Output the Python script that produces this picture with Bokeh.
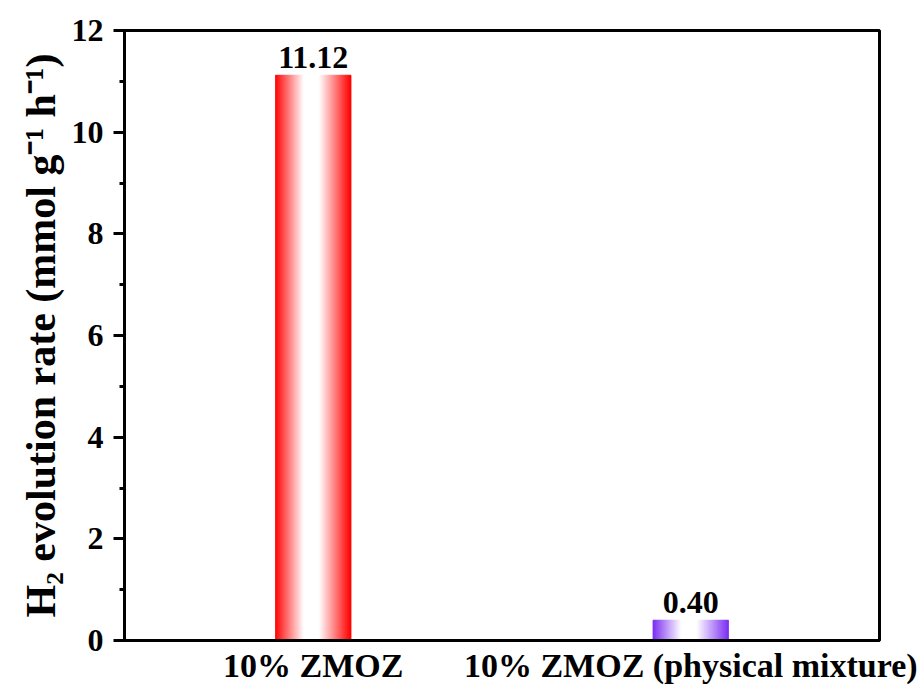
from bokeh.plotting import figure
from bokeh.models import Range1d, FixedTicker, SingleIntervalTicker, ColumnDataSource
from bokeh.core.properties import value
from bokeh.embed import file_html
from bokeh.resources import INLINE

# Data
categories = ["10% ZMOZ", "10% ZMOZ (physical mixture)"]
rates = [11.12, 0.40]
rate_labels = ["11.12", "0.40"]
edge_colors = [(255, 0, 0), (123, 44, 242)]

FONT = "Liberation Serif"
BAR_WIDTH = 0.2
N_STRIPS = 76

centers = [i + 0.5 for i in range(len(categories))]


def white_mix(t):
    # 0 at bar edges -> 1 across the middle (horizontal gradient)
    if t < 0.38:
        return t / 0.38
    if t <= 0.58:
        return 1.0
    return (1.0 - t) / 0.42


def hexcol(rgb, a):
    r, g, b = rgb
    r = round(r + (255 - r) * a)
    g = round(g + (255 - g) * a)
    b = round(b + (255 - b) * a)
    return "#%02x%02x%02x" % (r, g, b)


xs, tops, ws, cols = [], [], [], []
sw = BAR_WIDTH / N_STRIPS
for c, v, rgb in zip(centers, rates, edge_colors):
    for k in range(N_STRIPS):
        t = (k + 0.5) / N_STRIPS
        xs.append(c - BAR_WIDTH / 2 + t * BAR_WIDTH)
        tops.append(v)
        ws.append(sw)
        cols.append(hexcol(rgb, white_mix(t)))

strips = ColumnDataSource(dict(x=xs, top=tops, w=ws, color=cols))
labels = ColumnDataSource(dict(x=centers, y=rates, text=rate_labels))

p = figure(width=924, height=689, output_backend="svg", toolbar_location=None,
           x_range=Range1d(0, 2), y_range=Range1d(0, 12),
           min_border_left=124, min_border_top=30, min_border_right=45,
           min_border_bottom=49)

p.vbar(x="x", top="top", width="w", bottom=0, source=strips,
       fill_color="color", line_color="color", line_width=0.8)

p.text(x="x", y="y", text="text", source=labels, text_align="center",
       text_baseline="bottom", y_offset=-7, text_font=value(FONT),
       text_font_style="bold", text_font_size="32px", text_color="black")

p.grid.visible = False
p.outline_line_color = "black"
p.outline_line_width = 3
p.background_fill_color = "white"
p.border_fill_color = "white"

# y axis
ya = p.yaxis[0]
ya.ticker = SingleIntervalTicker(interval=2, num_minor_ticks=2)
ya.axis_label = "H\u2082 evolution rate (mmol g\u207b\u00b9 h\u207b\u00b9)"
ya.axis_label_text_font = FONT
ya.axis_label_text_font_style = "bold"
ya.axis_label_text_font_size = "42px"
ya.axis_label_text_color = "black"
ya.axis_label_standoff = 5
ya.major_label_text_font = FONT
ya.major_label_text_font_style = "bold"
ya.major_label_text_font_size = "32px"
ya.major_label_text_color = "black"
ya.major_label_standoff = 10
ya.axis_line_width = 3
ya.major_tick_line_width = 3
ya.minor_tick_line_width = 3
ya.major_tick_out = 11
ya.major_tick_in = 0
ya.minor_tick_out = 5
ya.minor_tick_in = 0

# x axis
xa = p.xaxis[0]
xa.ticker = FixedTicker(ticks=centers)
xa.major_label_overrides = {c: name for c, name in zip(centers, categories)}
xa.major_label_text_font = FONT
xa.major_label_text_font_style = "bold"
xa.major_label_text_font_size = "34px"
xa.major_label_text_color = "black"
xa.major_label_standoff = 6
xa.axis_line_width = 3
xa.major_tick_line_color = None
xa.minor_tick_line_color = None
xa.major_tick_out = 0

open("out.html", "w").write(file_html(p, INLINE))
